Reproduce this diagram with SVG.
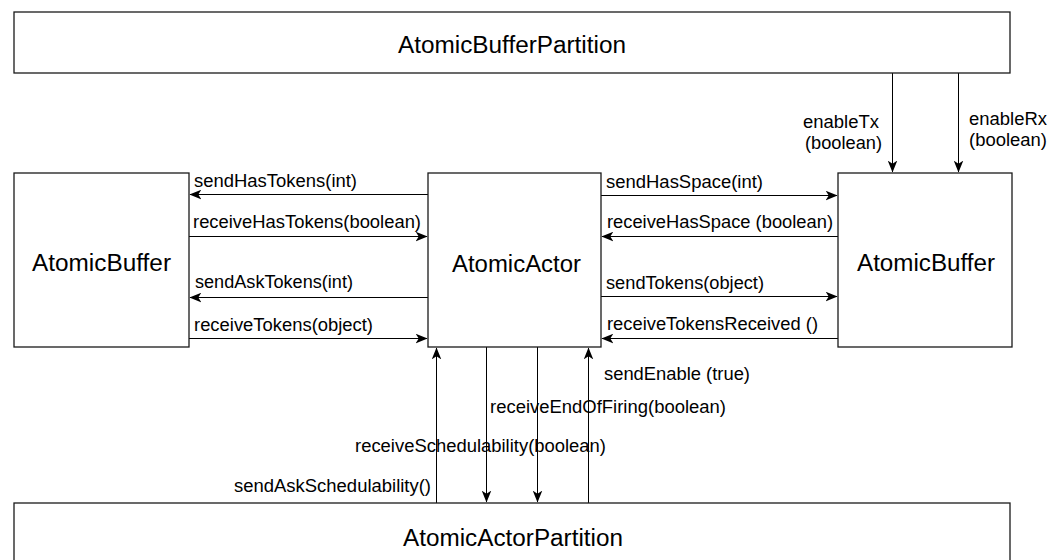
<svg xmlns="http://www.w3.org/2000/svg" width="1062" height="560" viewBox="0 0 1062 560">
  <style>
    .box { fill: #ffffff; stroke: #1a1a1a; stroke-width: 1.3; }
    .title { font-family: "Liberation Sans", Arial, Helvetica, sans-serif; font-size: 23px; fill: #000000; }
    .lbl { font-family: "Liberation Sans", Arial, Helvetica, sans-serif; font-size: 17.5px; fill: #000000; }
    .edge { fill: none; stroke: #000000; stroke-width: 1; marker-end: url(#arrow); }
  </style>
  <defs>
    <marker id="arrow" markerUnits="userSpaceOnUse" markerWidth="12" markerHeight="10" viewBox="0 0 10 8" refX="9.5" refY="4" orient="auto">
      <path d="M0,0 L10,4 L0,8 L2.6,4 Z" fill="#000000"/>
    </marker>
  </defs>
  <rect width="1062" height="560" fill="#ffffff"/>

  <!-- connectors -->
  <g id="connectors">
    <!-- left buffer <-> actor -->
    <line class="edge" x1="428" y1="194.5" x2="190" y2="194.5"/>
    <line class="edge" x1="189" y1="236.5" x2="427" y2="236.5"/>
    <line class="edge" x1="428" y1="297.5" x2="190" y2="297.5"/>
    <line class="edge" x1="189" y1="338.5" x2="427" y2="338.5"/>
    <!-- actor <-> right buffer -->
    <line class="edge" x1="601" y1="195.5" x2="837" y2="195.5"/>
    <line class="edge" x1="838" y1="236.5" x2="602" y2="236.5"/>
    <line class="edge" x1="601" y1="296.5" x2="837" y2="296.5"/>
    <line class="edge" x1="838" y1="338.5" x2="602" y2="338.5"/>
    <!-- buffer partition -> right buffer -->
    <line class="edge" x1="892.5" y1="73" x2="892.5" y2="172"/>
    <line class="edge" x1="958.5" y1="73" x2="958.5" y2="172"/>
    <!-- actor <-> actor partition -->
    <line class="edge" x1="436.5" y1="503" x2="436.5" y2="348"/>
    <line class="edge" x1="486.5" y1="347" x2="486.5" y2="502"/>
    <line class="edge" x1="537.5" y1="347" x2="537.5" y2="502"/>
    <line class="edge" x1="588.5" y1="503" x2="588.5" y2="348"/>

    <!-- connector labels -->
    <text class="lbl" x="194" y="187" textLength="163" lengthAdjust="spacingAndGlyphs">sendHasTokens(int)</text>
    <text class="lbl" x="193" y="228" textLength="228" lengthAdjust="spacingAndGlyphs">receiveHasTokens(boolean)</text>
    <text class="lbl" x="195" y="288" textLength="158" lengthAdjust="spacingAndGlyphs">sendAskTokens(int)</text>
    <text class="lbl" x="194" y="331" textLength="179" lengthAdjust="spacingAndGlyphs">receiveTokens(object)</text>

    <text class="lbl" x="606" y="188" textLength="157" lengthAdjust="spacingAndGlyphs">sendHasSpace(int)</text>
    <text class="lbl" x="607" y="228" textLength="226" lengthAdjust="spacingAndGlyphs">receiveHasSpace (boolean)</text>
    <text class="lbl" x="606" y="289" textLength="158" lengthAdjust="spacingAndGlyphs">sendTokens(object)</text>
    <text class="lbl" x="607" y="330" textLength="211" lengthAdjust="spacingAndGlyphs">receiveTokensReceived ()</text>

    <text class="lbl" x="803" y="128" textLength="76" lengthAdjust="spacingAndGlyphs">enableTx</text>
    <text class="lbl" x="805" y="149" textLength="77" lengthAdjust="spacingAndGlyphs">(boolean)</text>
    <text class="lbl" x="969" y="125" textLength="78" lengthAdjust="spacingAndGlyphs">enableRx</text>
    <text class="lbl" x="969" y="146" textLength="78" lengthAdjust="spacingAndGlyphs">(boolean)</text>

    <text class="lbl" x="604" y="380" textLength="146" lengthAdjust="spacingAndGlyphs">sendEnable (true)</text>
    <text class="lbl" x="490" y="413" textLength="236" lengthAdjust="spacingAndGlyphs">receiveEndOfFiring(boolean)</text>
    <text class="lbl" x="355" y="452" textLength="251" lengthAdjust="spacingAndGlyphs">receiveSchedulability(boolean)</text>
    <text class="lbl" x="234" y="492" textLength="197" lengthAdjust="spacingAndGlyphs">sendAskSchedulability()</text>
  </g>

  <!-- nodes -->
  <g id="atomic-buffer-partition">
    <rect class="box" x="14" y="12" width="996" height="61"/>
    <text class="title" x="398" y="53" textLength="228" lengthAdjust="spacingAndGlyphs">AtomicBufferPartition</text>
  </g>
  <g id="atomic-buffer-left">
    <rect class="box" x="14" y="173" width="175" height="174"/>
    <text class="title" x="32" y="271" textLength="139" lengthAdjust="spacingAndGlyphs">AtomicBuffer</text>
  </g>
  <g id="atomic-actor">
    <rect class="box" x="428" y="173" width="173" height="174"/>
    <text class="title" x="452" y="272" textLength="129" lengthAdjust="spacingAndGlyphs">AtomicActor</text>
  </g>
  <g id="atomic-buffer-right">
    <rect class="box" x="838" y="173" width="174" height="174"/>
    <text class="title" x="857" y="271" textLength="138" lengthAdjust="spacingAndGlyphs">AtomicBuffer</text>
  </g>
  <g id="atomic-actor-partition">
    <rect class="box" x="14" y="503" width="996" height="80"/>
    <text class="title" x="403" y="546" textLength="220" lengthAdjust="spacingAndGlyphs">AtomicActorPartition</text>
  </g>
</svg>
